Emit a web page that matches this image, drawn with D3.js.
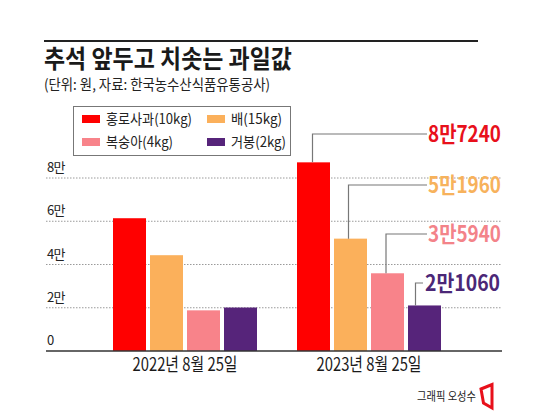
<!DOCTYPE html>
<html><head><meta charset="utf-8">
<script src="https://cdn.jsdelivr.net/npm/d3@7/dist/d3.min.js"></script>
<style>body{margin:0;background:#fff}svg{display:block}text{font-family:"Noto Sans CJK KR","Noto Sans",sans-serif}</style>
</head><body>
<script>
const groups = ["2022년 8월 25일", "2023년 8월 25일"];
const seriesNames = ["홍로사과(10kg)", "배(15kg)", "복숭아(4kg)", "거봉(2kg)"];
const values2022 = [61400, 44300, 18800, 20100];
const values2023 = [87240, 51960, 35940, 21060];
const labels2023 = ["8만7240", "5만1960", "3만5940", "2만1060"];
const yTicks = [0, 20000, 40000, 60000, 80000];
const yTickLabels = ["0", "2만", "4만", "6만", "8만"];
const barColors = ["#FF0000", "#FBB05B", "#F8838A", "#56247A"];
const labelColors = ["#E8101B", "#F7B25C", "#F38389", "#4B2777"];

const W = 550, H = 420;
const svg = d3.select("body").append("svg").attr("width", W).attr("height", H);

// header
svg.append("line").attr("x1",44).attr("x2",478).attr("y1",41).attr("y2",41).attr("stroke","#222").attr("stroke-width",2);
svg.append("text").attr("x",44).attr("y",68).attr("font-size",25).attr("font-weight",700).attr("fill","#1a1a1a")
  .attr("textLength",248).attr("lengthAdjust","spacingAndGlyphs").text("추석 앞두고 치솟는 과일값");
svg.append("text").attr("x",44).attr("y",90).attr("font-size",14.5).attr("fill","#222")
  .attr("textLength",226).attr("lengthAdjust","spacingAndGlyphs").text("(단위: 원, 자료: 한국농수산식품유통공사)");

// scales
const y = d3.scaleLinear().domain([0, 80000]).range([351, 178]);
const x0 = d3.scaleBand().domain(groups).range([113, 441]).paddingInner(40/184);
const x1 = d3.scaleBand().domain(d3.range(4)).range([0, x0.bandwidth()]).paddingInner(4/37);

// grid
const grid = svg.append("g");
yTicks.forEach((t,i) => {
  if (t > 0) grid.append("line").attr("x1",46).attr("x2",502).attr("y1",y(t)).attr("y2",y(t))
    .attr("stroke","#9a9a9a").attr("stroke-width",1).attr("stroke-dasharray","1.5,1.5");
  grid.append("text").attr("x",47).attr("y",y(t)-6).attr("font-size",13).attr("fill","#222")
    .attr("letter-spacing",-0.8).text(yTickLabels[i]);
});

// bars
const data = [values2022, values2023];
groups.forEach((g,gi) => {
  const gg = svg.append("g").attr("transform",`translate(${x0(g)},0)`);
  gg.selectAll("rect").data(data[gi]).join("rect")
    .attr("x",(d,i)=>x1(i)).attr("width",x1.bandwidth())
    .attr("y",d=>y(d)).attr("height",d=>y(0)-y(d))
    .attr("fill",(d,i)=>barColors[i]);
});

// baseline
svg.append("line").attr("x1",46).attr("x2",502).attr("y1",y(0)).attr("y2",y(0)).attr("stroke","#333").attr("stroke-width",1.5);

// x labels
groups.forEach(g => {
  svg.append("text").attr("x",x0(g)+x0.bandwidth()/2).attr("y",371).attr("text-anchor","middle")
    .attr("font-size",18).attr("fill","#1a1a1a").attr("textLength",105).attr("lengthAdjust","spacingAndGlyphs").text(g);
});

// callouts
const labelY = [134, 185, 234, 283];
const leaderOff = [-1, -2, -1.5, -9];
const gx = x0(groups[1]);
values2023.forEach((v,i) => {
  const lx = gx + x1(i) + x1.bandwidth()/2 + leaderOff[i];
  const endX = i === 3 ? 423 : 427;
  svg.append("path").attr("d",`M${lx},${y(v)}V${labelY[i]}H${endX}`)
    .attr("fill","none").attr("stroke","#777").attr("stroke-width",1.2);
  svg.append("text").attr("x", i===3 ? 425 : 428).attr("y",labelY[i]+8).attr("font-size",22).attr("font-weight",700)
    .attr("fill",labelColors[i]).attr("textLength", i===3 ? 75 : 73).attr("lengthAdjust","spacingAndGlyphs").text(labels2023[i]);
});

// legend
const leg = svg.append("g");
leg.append("rect").attr("x",73.5).attr("y",106.5).attr("width",217).attr("height",49).attr("fill","#fff").attr("stroke","#777");
const legPos = [[82,119],[207,119],[82,142],[207,142]];
const legLen = [86, 51, 67, 55];
seriesNames.forEach((n,i) => {
  const [lx,ly] = legPos[i];
  leg.append("rect").attr("x",lx).attr("y",ly-4).attr("width",18).attr("height",8).attr("fill",barColors[i]);
  leg.append("text").attr("x",lx+24).attr("y",ly+5).attr("font-size",14).attr("fill","#222")
    .attr("textLength",legLen[i]).attr("lengthAdjust","spacingAndGlyphs").text(n);
});

// credit
svg.append("text").attr("x",417).attr("y",401).attr("font-size",12).attr("fill","#222")
  .attr("textLength",59).attr("lengthAdjust","spacingAndGlyphs").text("그래픽 오성수");
svg.append("path").attr("d","M481,389L492,384.5V408L483.5,403Z").attr("fill","none").attr("stroke","#E8101B").attr("stroke-width",3).attr("stroke-linejoin","miter");
</script>
</body></html>
